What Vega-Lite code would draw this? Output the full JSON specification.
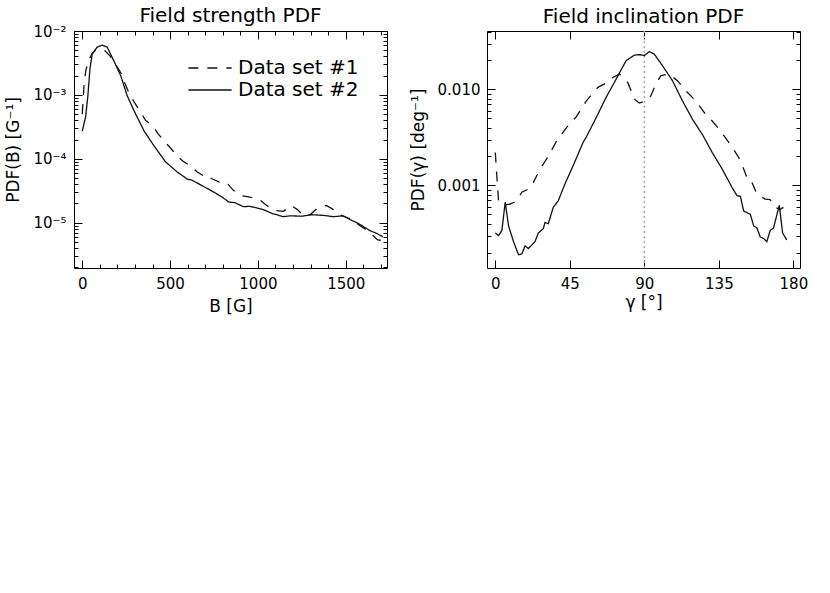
{
  "$schema": "https://vega.github.io/schema/vega-lite/v6.json",
  "padding": {"left": 4, "top": 5, "right": 5, "bottom": 5},
  "background": "white",
  "config": {
    "font": "DejaVu Sans",
    "view": {"stroke": "black", "strokeWidth": 1},
    "axis": {"grid": false, "domain": false, "tickColor": "black", "tickWidth": 1, "labelColor": "black", "titleColor": "black", "labelFont": "DejaVu Sans", "titleFont": "DejaVu Sans", "labelFontSize": 15, "titleFontSize": 17, "titleFontWeight": "normal", "labelFlush": false, "labelOverlap": false},
    "title": {"font": "DejaVu Sans", "fontSize": 20, "fontWeight": "normal", "color": "black", "offset": -2},
    "legend": {"symbolType": "M-2.5,0H2.5", "symbolSize": 300, "symbolStrokeWidth": 1.3, "symbolStrokeColor": "#111", "labelFontSize": 20, "labelFont": "DejaVu Sans", "labelColor": "black", "rowPadding": 2, "labelOffset": 18, "padding": 0}
  },
  "datasets": {
    "strength": [
      {"s": "Data set #2", "B": 0, "p": 0.00027},
      {"s": "Data set #2", "B": 19, "p": 0.00045},
      {"s": "Data set #2", "B": 32, "p": 0.00097},
      {"s": "Data set #2", "B": 44, "p": 0.0026},
      {"s": "Data set #2", "B": 57, "p": 0.0044},
      {"s": "Data set #2", "B": 85, "p": 0.0056},
      {"s": "Data set #2", "B": 114, "p": 0.006},
      {"s": "Data set #2", "B": 142, "p": 0.0056},
      {"s": "Data set #2", "B": 180, "p": 0.0034},
      {"s": "Data set #2", "B": 219, "p": 0.002},
      {"s": "Data set #2", "B": 256, "p": 0.00097},
      {"s": "Data set #2", "B": 294, "p": 0.00057},
      {"s": "Data set #2", "B": 351, "p": 0.000276},
      {"s": "Data set #2", "B": 408, "p": 0.00016},
      {"s": "Data set #2", "B": 475, "p": 0.000089},
      {"s": "Data set #2", "B": 541, "p": 0.000062},
      {"s": "Data set #2", "B": 598, "p": 0.000048},
      {"s": "Data set #2", "B": 626, "p": 0.000046},
      {"s": "Data set #2", "B": 674, "p": 0.000039},
      {"s": "Data set #2", "B": 750, "p": 0.00003},
      {"s": "Data set #2", "B": 797, "p": 0.000025},
      {"s": "Data set #2", "B": 835, "p": 0.000021},
      {"s": "Data set #2", "B": 870, "p": 0.0000205},
      {"s": "Data set #2", "B": 917, "p": 0.0000178},
      {"s": "Data set #2", "B": 955, "p": 0.000018},
      {"s": "Data set #2", "B": 1031, "p": 0.000016},
      {"s": "Data set #2", "B": 1078, "p": 0.000014},
      {"s": "Data set #2", "B": 1145, "p": 0.0000124},
      {"s": "Data set #2", "B": 1183, "p": 0.0000128},
      {"s": "Data set #2", "B": 1249, "p": 0.0000126},
      {"s": "Data set #2", "B": 1306, "p": 0.0000133},
      {"s": "Data set #2", "B": 1372, "p": 0.000013},
      {"s": "Data set #2", "B": 1429, "p": 0.0000124},
      {"s": "Data set #2", "B": 1486, "p": 0.0000128},
      {"s": "Data set #2", "B": 1524, "p": 0.0000112},
      {"s": "Data set #2", "B": 1563, "p": 0.00001},
      {"s": "Data set #2", "B": 1600, "p": 0.0000087},
      {"s": "Data set #2", "B": 1638, "p": 0.0000075},
      {"s": "Data set #2", "B": 1676, "p": 0.0000068},
      {"s": "Data set #2", "B": 1711, "p": 0.000006},
      {"s": "Data set #1", "B": 0, "p": 0.0005},
      {"s": "Data set #1", "B": 10, "p": 0.0014},
      {"s": "Data set #1", "B": 20, "p": 0.0024},
      {"s": "Data set #1", "B": 35, "p": 0.0034},
      {"s": "Data set #1", "B": 55, "p": 0.0044},
      {"s": "Data set #1", "B": 75, "p": 0.005},
      {"s": "Data set #1", "B": 100, "p": 0.0052},
      {"s": "Data set #1", "B": 130, "p": 0.0049},
      {"s": "Data set #1", "B": 160, "p": 0.004},
      {"s": "Data set #1", "B": 190, "p": 0.003},
      {"s": "Data set #1", "B": 220, "p": 0.0022},
      {"s": "Data set #1", "B": 250, "p": 0.00135},
      {"s": "Data set #1", "B": 275, "p": 0.00095},
      {"s": "Data set #1", "B": 295, "p": 0.00078},
      {"s": "Data set #1", "B": 330, "p": 0.00055},
      {"s": "Data set #1", "B": 360, "p": 0.0004},
      {"s": "Data set #1", "B": 400, "p": 0.00033},
      {"s": "Data set #1", "B": 430, "p": 0.00025},
      {"s": "Data set #1", "B": 465, "p": 0.00019},
      {"s": "Data set #1", "B": 500, "p": 0.00015},
      {"s": "Data set #1", "B": 535, "p": 0.000115},
      {"s": "Data set #1", "B": 570, "p": 0.000093},
      {"s": "Data set #1", "B": 610, "p": 0.000079},
      {"s": "Data set #1", "B": 655, "p": 0.000062},
      {"s": "Data set #1", "B": 690, "p": 0.000054},
      {"s": "Data set #1", "B": 710, "p": 0.000056},
      {"s": "Data set #1", "B": 735, "p": 0.000049},
      {"s": "Data set #1", "B": 780, "p": 0.000043},
      {"s": "Data set #1", "B": 800, "p": 0.000044},
      {"s": "Data set #1", "B": 830, "p": 0.00004},
      {"s": "Data set #1", "B": 860, "p": 0.000032},
      {"s": "Data set #1", "B": 905, "p": 0.0000265},
      {"s": "Data set #1", "B": 955, "p": 0.000025},
      {"s": "Data set #1", "B": 985, "p": 0.0000245},
      {"s": "Data set #1", "B": 1005, "p": 0.0000235},
      {"s": "Data set #1", "B": 1050, "p": 0.0000186},
      {"s": "Data set #1", "B": 1100, "p": 0.0000155},
      {"s": "Data set #1", "B": 1145, "p": 0.000015},
      {"s": "Data set #1", "B": 1190, "p": 0.0000185},
      {"s": "Data set #1", "B": 1225, "p": 0.000016},
      {"s": "Data set #1", "B": 1260, "p": 0.0000128},
      {"s": "Data set #1", "B": 1300, "p": 0.0000135},
      {"s": "Data set #1", "B": 1340, "p": 0.000017},
      {"s": "Data set #1", "B": 1390, "p": 0.0000186},
      {"s": "Data set #1", "B": 1430, "p": 0.000016},
      {"s": "Data set #1", "B": 1480, "p": 0.0000128},
      {"s": "Data set #1", "B": 1525, "p": 0.0000115},
      {"s": "Data set #1", "B": 1580, "p": 0.000009},
      {"s": "Data set #1", "B": 1610, "p": 0.000008},
      {"s": "Data set #1", "B": 1655, "p": 0.0000063},
      {"s": "Data set #1", "B": 1680, "p": 0.0000054},
      {"s": "Data set #1", "B": 1695, "p": 0.0000053},
      {"s": "Data set #1", "B": 1712, "p": 0.0000058}
    ],
    "incl": [
      {"s": "Data set #2", "g": 0, "p": 0.00032},
      {"s": "Data set #2", "g": 2, "p": 0.0003},
      {"s": "Data set #2", "g": 4, "p": 0.00034},
      {"s": "Data set #2", "g": 6, "p": 0.00067},
      {"s": "Data set #2", "g": 8, "p": 0.00038},
      {"s": "Data set #2", "g": 11, "p": 0.00026},
      {"s": "Data set #2", "g": 14, "p": 0.00019},
      {"s": "Data set #2", "g": 16, "p": 0.000193},
      {"s": "Data set #2", "g": 18, "p": 0.000235},
      {"s": "Data set #2", "g": 20, "p": 0.00022},
      {"s": "Data set #2", "g": 24, "p": 0.00026},
      {"s": "Data set #2", "g": 26, "p": 0.00032},
      {"s": "Data set #2", "g": 29, "p": 0.000355},
      {"s": "Data set #2", "g": 30, "p": 0.00041},
      {"s": "Data set #2", "g": 32, "p": 0.0004},
      {"s": "Data set #2", "g": 35, "p": 0.00059},
      {"s": "Data set #2", "g": 38, "p": 0.00069},
      {"s": "Data set #2", "g": 42, "p": 0.00103},
      {"s": "Data set #2", "g": 47, "p": 0.0016},
      {"s": "Data set #2", "g": 53, "p": 0.0028},
      {"s": "Data set #2", "g": 55, "p": 0.0032},
      {"s": "Data set #2", "g": 61, "p": 0.0051},
      {"s": "Data set #2", "g": 67, "p": 0.0083},
      {"s": "Data set #2", "g": 73, "p": 0.0128},
      {"s": "Data set #2", "g": 79, "p": 0.0199},
      {"s": "Data set #2", "g": 84, "p": 0.0227},
      {"s": "Data set #2", "g": 87, "p": 0.023},
      {"s": "Data set #2", "g": 90, "p": 0.0225},
      {"s": "Data set #2", "g": 93, "p": 0.0247},
      {"s": "Data set #2", "g": 96, "p": 0.0233},
      {"s": "Data set #2", "g": 101, "p": 0.0176},
      {"s": "Data set #2", "g": 107, "p": 0.0123},
      {"s": "Data set #2", "g": 113, "p": 0.0076},
      {"s": "Data set #2", "g": 119, "p": 0.0049},
      {"s": "Data set #2", "g": 125, "p": 0.0034},
      {"s": "Data set #2", "g": 131, "p": 0.0022},
      {"s": "Data set #2", "g": 137, "p": 0.00148},
      {"s": "Data set #2", "g": 143, "p": 0.00095},
      {"s": "Data set #2", "g": 146, "p": 0.00078},
      {"s": "Data set #2", "g": 148, "p": 0.00077},
      {"s": "Data set #2", "g": 150, "p": 0.00054},
      {"s": "Data set #2", "g": 154, "p": 0.0005},
      {"s": "Data set #2", "g": 156, "p": 0.00038},
      {"s": "Data set #2", "g": 158, "p": 0.00036},
      {"s": "Data set #2", "g": 160, "p": 0.00029},
      {"s": "Data set #2", "g": 162, "p": 0.00028},
      {"s": "Data set #2", "g": 164, "p": 0.00026},
      {"s": "Data set #2", "g": 166, "p": 0.00034},
      {"s": "Data set #2", "g": 168, "p": 0.00036},
      {"s": "Data set #2", "g": 171.5, "p": 0.00062},
      {"s": "Data set #2", "g": 173.5, "p": 0.00032},
      {"s": "Data set #2", "g": 176, "p": 0.00027},
      {"s": "Data set #1", "g": 0, "p": 0.0022},
      {"s": "Data set #1", "g": 1, "p": 0.0012},
      {"s": "Data set #1", "g": 2, "p": 0.00068},
      {"s": "Data set #1", "g": 4.7, "p": 0.00062},
      {"s": "Data set #1", "g": 9, "p": 0.00064},
      {"s": "Data set #1", "g": 13, "p": 0.00069},
      {"s": "Data set #1", "g": 16, "p": 0.00085},
      {"s": "Data set #1", "g": 21, "p": 0.00093},
      {"s": "Data set #1", "g": 23, "p": 0.00107},
      {"s": "Data set #1", "g": 27, "p": 0.00148},
      {"s": "Data set #1", "g": 32, "p": 0.002},
      {"s": "Data set #1", "g": 37, "p": 0.0029},
      {"s": "Data set #1", "g": 43, "p": 0.004},
      {"s": "Data set #1", "g": 49, "p": 0.0052},
      {"s": "Data set #1", "g": 55, "p": 0.0076},
      {"s": "Data set #1", "g": 62, "p": 0.0105},
      {"s": "Data set #1", "g": 66, "p": 0.0114},
      {"s": "Data set #1", "g": 71, "p": 0.0133},
      {"s": "Data set #1", "g": 75, "p": 0.0144},
      {"s": "Data set #1", "g": 80, "p": 0.0118},
      {"s": "Data set #1", "g": 84, "p": 0.0079},
      {"s": "Data set #1", "g": 87, "p": 0.0072},
      {"s": "Data set #1", "g": 91, "p": 0.0076},
      {"s": "Data set #1", "g": 94, "p": 0.0086},
      {"s": "Data set #1", "g": 97, "p": 0.0114},
      {"s": "Data set #1", "g": 100, "p": 0.0139},
      {"s": "Data set #1", "g": 105, "p": 0.0144},
      {"s": "Data set #1", "g": 110, "p": 0.0123},
      {"s": "Data set #1", "g": 115, "p": 0.0097},
      {"s": "Data set #1", "g": 121, "p": 0.0076},
      {"s": "Data set #1", "g": 127, "p": 0.0055},
      {"s": "Data set #1", "g": 130, "p": 0.0049},
      {"s": "Data set #1", "g": 136, "p": 0.0037},
      {"s": "Data set #1", "g": 141, "p": 0.0028},
      {"s": "Data set #1", "g": 147, "p": 0.00196},
      {"s": "Data set #1", "g": 150, "p": 0.00148},
      {"s": "Data set #1", "g": 152, "p": 0.0012},
      {"s": "Data set #1", "g": 154, "p": 0.00118},
      {"s": "Data set #1", "g": 158, "p": 0.00081},
      {"s": "Data set #1", "g": 163, "p": 0.00072},
      {"s": "Data set #1", "g": 166, "p": 0.00071},
      {"s": "Data set #1", "g": 169, "p": 0.00059},
      {"s": "Data set #1", "g": 172, "p": 0.00056},
      {"s": "Data set #1", "g": 174, "p": 0.00059}
    ],
    "mark90": [{"g": 90}]
  },
  "resolve": {"scale": {"strokeDash": "independent"}, "legend": {"strokeDash": "independent"}},
  "spacing": 20,
  "hconcat": [
    {
      "width": 313,
      "height": 237,
      "title": "Field strength PDF",
      "data": {"name": "strength"},
      "resolve": {"axis": {"x": "independent", "y": "independent"}},
      "layer": [
        {
          "mark": {"type": "line", "color": "#111", "strokeWidth": 1.3, "clip": true},
          "encoding": {
            "x": {"field": "B", "type": "quantitative",
              "scale": {"domain": [-47, 1735], "nice": false, "zero": false},
              "axis": {"orient": "bottom", "title": "B [G]", "format": "d",
                "values": [0,100,200,300,400,500,600,700,800,900,1000,1100,1200,1300,1400,1500,1600,1700],
                "labelExpr": "datum.value % 500 == 0 ? datum.label : ''",
                "tickSize": {"condition": {"test": "datum.value % 500 == 0", "value": -8}, "value": -4},
                "labelPadding": 16, "titlePadding": 3}},
            "y": {"field": "p", "type": "quantitative",
              "scale": {"type": "log", "domain": [0.00000195, 0.01], "nice": false},
              "axis": {"orient": "left", "title": "PDF(B) [G⁻¹]",
                "values": [0.000002,0.000003,0.000004,0.000005,0.000006,0.000007,0.000008,0.000009,0.00001,0.00002,0.00003,0.00004,0.00005,0.00006,0.00007,0.00008,0.00009,0.0001,0.0002,0.0003,0.0004,0.0005,0.0006,0.0007,0.0008,0.0009,0.001,0.002,0.003,0.004,0.005,0.006,0.007,0.008,0.009,0.01],
                "labelExpr": "datum.value==0.01?'10⁻²':datum.value==0.001?'10⁻³':datum.value==0.0001?'10⁻⁴':datum.value==0.00001?'10⁻⁵':''",
                "tickSize": {"condition": {"test": "datum.value==0.01||datum.value==0.001||datum.value==0.0001||datum.value==0.00001", "value": -8}, "value": -4},
                "labelPadding": 16, "titlePadding": 10}},
            "strokeDash": {"field": "s", "type": "nominal",
              "scale": {"domain": ["Data set #1", "Data set #2"], "range": [[10, 9], [1, 0]]},
              "legend": {"orient": "none", "legendX": 126, "legendY": 27, "title": null}}
          }
        },
        {
          "mark": {"type": "line", "opacity": 0},
          "encoding": {
            "x": {"field": "B", "type": "quantitative",
              "axis": {"orient": "top", "labels": false, "title": null,
                "values": [0,100,200,300,400,500,600,700,800,900,1000,1100,1200,1300,1400,1500,1600,1700],
                "tickSize": {"condition": {"test": "datum.value % 500 == 0", "value": -8}, "value": -4}}},
            "y": {"field": "p", "type": "quantitative",
              "axis": {"orient": "right", "labels": false, "title": null,
                "values": [0.000002,0.000003,0.000004,0.000005,0.000006,0.000007,0.000008,0.000009,0.00001,0.00002,0.00003,0.00004,0.00005,0.00006,0.00007,0.00008,0.00009,0.0001,0.0002,0.0003,0.0004,0.0005,0.0006,0.0007,0.0008,0.0009,0.001,0.002,0.003,0.004,0.005,0.006,0.007,0.008,0.009,0.01],
                "tickSize": {"condition": {"test": "datum.value==0.01||datum.value==0.001||datum.value==0.0001||datum.value==0.00001", "value": -8}, "value": -4}}},
            "detail": {"field": "s", "type": "nominal"}
          }
        }
      ]
    },
    {
      "width": 313,
      "height": 237,
      "title": "Field inclination PDF",
      "data": {"name": "incl"},
      "resolve": {"axis": {"x": "independent", "y": "independent"}},
      "layer": [
        {
          "data": {"name": "mark90"},
          "mark": {"type": "rule", "color": "#aaaaaa", "strokeWidth": 1.5, "strokeDash": [2, 3]},
          "encoding": {
            "x": {"field": "g", "type": "quantitative", "axis": null}
          }
        },
        {
          "mark": {"type": "line", "color": "#111", "strokeWidth": 1.3, "clip": true},
          "encoding": {
            "x": {"field": "g", "type": "quantitative",
              "scale": {"domain": [-5, 184], "nice": false, "zero": false},
              "axis": {"orient": "bottom", "title": "γ [°]", "format": "d",
                "values": [0, 45, 90, 135, 180], "tickSize": -8,
                "labelPadding": 16, "titlePadding": 3}},
            "y": {"field": "p", "type": "quantitative",
              "scale": {"type": "log", "domain": [0.000138, 0.0405], "nice": false},
              "axis": {"orient": "left", "title": "PDF(γ) [deg⁻¹]",
                "values": [0.0002,0.0003,0.0004,0.0005,0.0006,0.0007,0.0008,0.0009,0.001,0.002,0.003,0.004,0.005,0.006,0.007,0.008,0.009,0.01,0.02,0.03,0.04],
                "labelExpr": "datum.value==0.01?'0.010':datum.value==0.001?'0.001':''",
                "tickSize": {"condition": {"test": "datum.value==0.01||datum.value==0.001", "value": -8}, "value": -4},
                "labelPadding": 15, "titlePadding": 10}},
            "strokeDash": {"field": "s", "type": "nominal",
              "scale": {"domain": ["Data set #1", "Data set #2"], "range": [[10, 9], [1, 0]]},
              "legend": null}
          }
        },
        {
          "mark": {"type": "line", "opacity": 0},
          "encoding": {
            "x": {"field": "g", "type": "quantitative",
              "axis": {"orient": "top", "labels": false, "title": null,
                "values": [0, 45, 90, 135, 180], "tickSize": -8}},
            "y": {"field": "p", "type": "quantitative",
              "axis": {"orient": "right", "labels": false, "title": null,
                "values": [0.0002,0.0003,0.0004,0.0005,0.0006,0.0007,0.0008,0.0009,0.001,0.002,0.003,0.004,0.005,0.006,0.007,0.008,0.009,0.01,0.02,0.03,0.04],
                "tickSize": {"condition": {"test": "datum.value==0.01||datum.value==0.001", "value": -8}, "value": -4}}},
            "detail": {"field": "s", "type": "nominal"}
          }
        }
      ]
    }
  ]
}
